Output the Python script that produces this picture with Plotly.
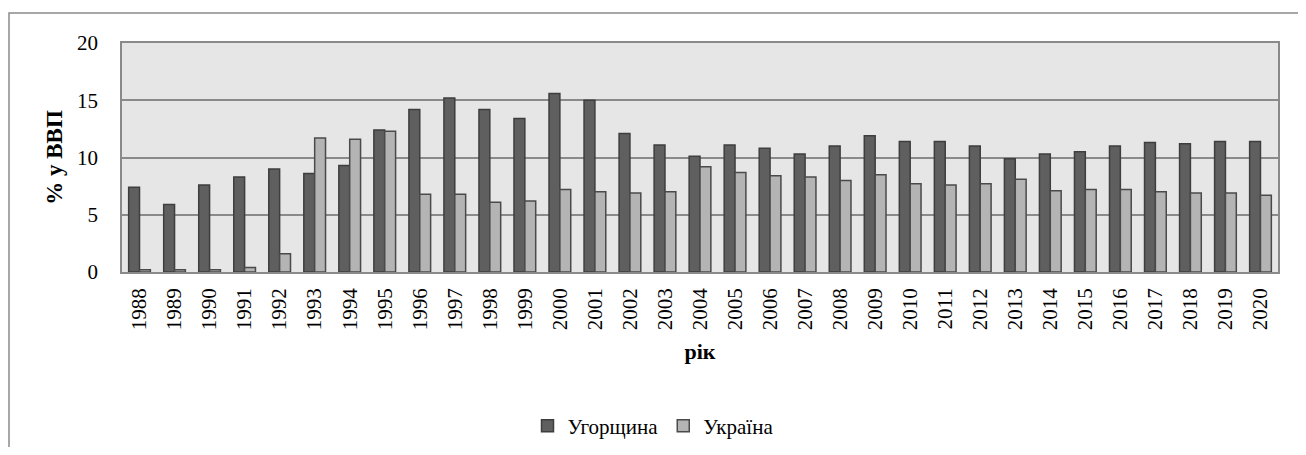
import plotly.graph_objects as go

years = [str(y) for y in range(1988, 2021)]
hungary = [7.4, 5.9, 7.6, 8.3, 9.0, 8.6, 9.3, 12.4, 14.2, 15.2, 14.2, 13.4, 15.6, 15.0,
           12.1, 11.1, 10.1, 11.1, 10.8, 10.3, 11.0, 11.9, 11.4, 11.4, 11.0, 9.9,
           10.3, 10.5, 11.0, 11.3, 11.2, 11.4, 11.4]
ukraine = [0.2, 0.2, 0.2, 0.4, 1.6, 11.7, 11.6, 12.3, 6.8, 6.8, 6.1, 6.2, 7.2, 7.0,
           6.9, 7.0, 9.2, 8.7, 8.4, 8.3, 8.0, 8.5, 7.7, 7.6, 7.7, 8.1,
           7.1, 7.2, 7.2, 7.0, 6.9, 6.9, 6.7]
names = ["Угорщина", "Україна"]
y_ticks = [0, 5, 10, 15, 20]

FONT = "Times New Roman, Liberation Serif, DejaVu Serif, serif"
OFF = 8  # page body margin
W, H = 1306 - 2 * OFF, 455 - 2 * OFF
L, T = 122 - OFF, 43 - OFF
R = W - (1278 - OFF)
B = H - (272 - OFF)
pw, ph = W - L - R, H - T - B

fig = go.Figure()
fig.add_trace(go.Bar(x=years, y=hungary, name=names[0],
                     marker=dict(color="#5f5f5f", line=dict(color="#3e3e3e", width=1.5))))
fig.add_trace(go.Bar(x=years, y=ukraine, name=names[1],
                     marker=dict(color="#b4b4b4", line=dict(color="#4a4a4a", width=1.5))))

def px_x(p):
    return (p - OFF - L) / pw

def px_y(p):
    return (H - B - (p - OFF)) / ph

fig.update_layout(
    width=W, height=H,
    margin=dict(l=L, r=R, t=T, b=B, autoexpand=False),
    paper_bgcolor="white",
    plot_bgcolor="#e6e6e6",
    barmode="group",
    bargap=0.38,
    bargroupgap=0,
    font=dict(family=FONT, size=21, color="black"),
    showlegend=True,
    legend=dict(orientation="h", xref="container", yref="container",
                x=(653 - OFF) / W, xanchor="center", y=1 - (426 - OFF) / H, yanchor="middle",
                font=dict(family=FONT, size=21, color="black"),
                itemwidth=30, tracegroupgap=0, bgcolor="rgba(0,0,0,0)"),
    xaxis=dict(
        tickangle=-90,
        showgrid=False,
        showline=True, linecolor="#8a8a8a", linewidth=1.5, mirror=True,
        ticks="", ticklabelstandoff=6,
        tickfont=dict(family=FONT, size=21, color="black"),
        title=dict(text="<b>рік</b>", standoff=14,
                   font=dict(family=FONT, size=22, color="black")),
    ),
    yaxis=dict(
        range=[0, 20],
        tickvals=y_ticks,
        showgrid=True, gridcolor="#8a8a8a", gridwidth=1.5,
        zeroline=False,
        showline=True, linecolor="#8a8a8a", linewidth=1.5, mirror=True,
        ticks="", ticklabelstandoff=18,
        tickfont=dict(family=FONT, size=21, color="black"),
        title=dict(text="<b>% у ВВП</b>", standoff=8,
                   font=dict(family=FONT, size=23, color="black")),
    ),
    shapes=[dict(type="rect", xref="paper", yref="paper",
                 x0=px_x(9), x1=px_x(1306 + 20), y0=px_y(455 + 20), y1=px_y(13),
                 line=dict(color="#8a8a8a", width=1.5), fillcolor="rgba(0,0,0,0)",
                 layer="below")],
)

fig.write_html("out.html")
